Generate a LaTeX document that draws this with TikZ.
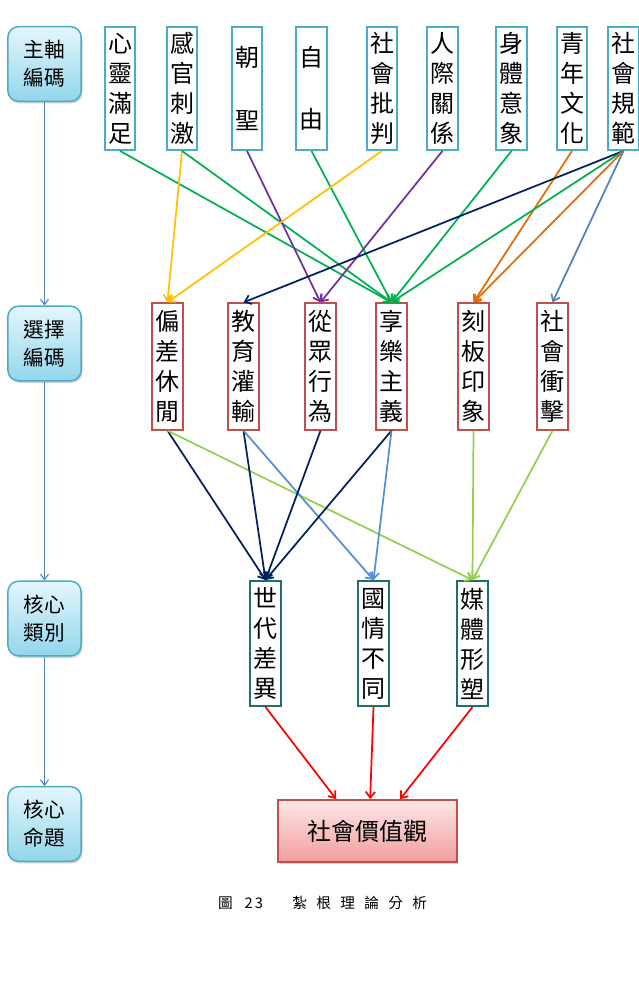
\documentclass[tikz,border=0pt]{standalone}
\usepackage{fontspec}
\setmainfont{Noto Sans CJK TC}
\usetikzlibrary{arrows.meta,shadows}
\definecolor{topc}{HTML}{4BACC6}
\definecolor{midc}{HTML}{C0504D}
\definecolor{botc}{HTML}{1F6F6A}
\definecolor{cgreen}{HTML}{00B050}
\definecolor{cyellow}{HTML}{FFC000}
\definecolor{cpurple}{HTML}{7030A0}
\definecolor{cnavy}{HTML}{002060}
\definecolor{corange}{HTML}{E36C09}
\definecolor{csteel}{HTML}{4F81BD}
\definecolor{clblue}{HTML}{558ED5}
\definecolor{clgreen}{HTML}{92D050}
\definecolor{cred}{HTML}{FF0000}
\definecolor{lbtop}{HTML}{E4F6FB}
\definecolor{lbbot}{HTML}{92D6EC}
\definecolor{pktop}{HTML}{FDE8E8}
\definecolor{pkbot}{HTML}{F29C9C}
\begin{document}
\begin{tikzpicture}[x=0.75pt,y=-0.75pt,
  vtext/.style={align=center,inner sep=0pt,font=\fontsize{18}{22.5}\selectfont},
  tb/.style={vtext,draw=topc,line width=1.6pt,minimum width=23pt,minimum height=92pt},
  mb/.style={vtext,draw=midc,line width=1.2pt,minimum width=23.25pt,minimum height=95pt},
  bb/.style={vtext,draw=botc,line width=1.5pt,minimum width=23.25pt,minimum height=93.75pt},
  lb/.style={align=center,rounded corners=8pt,draw=topc,line width=1.1pt,top color=lbtop,bottom color=lbbot,
     minimum width=55pt,minimum height=56pt,inner sep=0pt,font=\fontsize{15.5}{21}\selectfont,
     drop shadow={shadow xshift=1pt,shadow yshift=-1.5pt,opacity=0.35,fill=gray}},
  fb/.style={draw=midc,line width=1.3pt,top color=pktop,bottom color=pkbot,minimum width=134pt,minimum height=46.5pt,
     font=\fontsize{18}{20}\selectfont,drop shadow={shadow xshift=1pt,shadow yshift=-1.5pt,opacity=0.35,fill=gray}},
  arr/.style={line width=1.3pt,-{Straight Barb[length=4.5pt,width=7pt]}},
  vline/.style={draw=csteel,line width=0.8pt,-{Straight Barb[length=4pt,width=6pt]}}
]
\useasboundingbox (0,0) rectangle (639,990);
\fill[white] (0,0) rectangle (639,990);
% left column
\node[lb] (l1) at (44.5,64) {主軸\\編碼};
\node[lb] (l2) at (44.5,343.5) {選擇\\編碼};
\node[lb] (l3) at (44.5,618.5) {核心\\類別};
\node[lb] (l4) at (44.5,824) {核心\\命題};
\draw[vline] (l1) -- (l2);
\draw[vline] (l2) -- (l3);
\draw[vline] (l3) -- (l4);
% top row
\node[tb] (t1) at (120,88.5) {心\\靈\\滿\\足};
\node[tb] (t2) at (182,88.5) {感\\官\\刺\\激};
\node[tb] (t3) at (247,88.5) {朝\\[24.5pt]聖};
\node[tb] (t4) at (311.5,88.5) {自\\[24.5pt]由};
\node[tb] (t5) at (382,88.5) {社\\會\\批\\判};
\node[tb] (t6) at (442.5,88.5) {人\\際\\關\\係};
\node[tb] (t7) at (511.5,88.5) {身\\體\\意\\象};
\node[tb] (t8) at (572,88.5) {青\\年\\文\\化};
\node[tb] (t9) at (623.5,88.5) {社\\會\\規\\範};
% middle row
\node[mb] (m1) at (167.5,366.5) {偏\\差\\休\\閒};
\node[mb] (m2) at (243.5,366.5) {教\\育\\灌\\輸};
\node[mb] (m3) at (320.5,366.5) {從\\眾\\行\\為};
\node[mb] (m4) at (391.5,366.5) {享\\樂\\主\\義};
\node[mb] (m5) at (473.5,366.5) {刻\\板\\印\\象};
\node[mb] (m6) at (552.5,366.5) {社\\會\\衝\\擊};
% bottom row
\node[bb] (b1) at (265.5,643.5) {世\\代\\差\\異};
\node[bb] (b2) at (373.5,643.5) {國\\情\\不\\同};
\node[bb] (b3) at (472.5,643.5) {媒\\體\\形\\塑};
% final
\node[fb] (fin) at (367.5,831) {社會價值觀};
% caption
\node[font=\fontsize{11}{13}\selectfont,inner sep=0pt] (cap) at (322.5,903)
  {圖\hspace{9pt}2\hspace{1.5pt}3\hspace{22pt}紮\hspace{7pt}根\hspace{7pt}理\hspace{7pt}論\hspace{7pt}分\hspace{7pt}析};
% top -> middle
\draw[arr,cgreen] (t1.south) -- (m4.north);
\draw[arr,cyellow] (t2.south) -- (m1.north);
\draw[arr,cgreen] (t2.south) -- (m4.north);
\draw[arr,cpurple] (t3.south) -- (m3.north);
\draw[arr,cgreen] (t4.south) -- (m4.north);
\draw[arr,cyellow] (t5.south) -- (m1.north);
\draw[arr,cpurple] (t6.south) -- (m3.north);
\draw[arr,cgreen] (t7.south) -- (m4.north);
\draw[arr,corange] (t8.south) -- (m5.north);
\draw[arr,cnavy] (t9.south) -- (m2.north);
\draw[arr,cgreen] (t9.south) -- (m4.north);
\draw[arr,corange] (t9.south) -- (m5.north);
\draw[arr,csteel] (t9.south) -- (m6.north);
% middle -> bottom
\draw[arr,cnavy] (m1.south) -- (b1.north);
\draw[arr,clgreen] (m1.south) -- (b3.north);
\draw[arr,cnavy] (m2.south) -- (b1.north);
\draw[arr,clblue] (m2.south) -- (b2.north);
\draw[arr,cnavy] (m3.south) -- (b1.north);
\draw[arr,cnavy] (m4.south) -- (b1.north);
\draw[arr,clblue] (m4.south) -- (b2.north);
\draw[arr,clgreen] (m5.south) -- (b3.north);
\draw[arr,clgreen] (m6.south) -- (b3.north);
% bottom -> final
\draw[arr,cred] (b1.south) -- ([xshift=-23.5pt]fin.north);
\draw[arr,cred] (b2.south) -- ([xshift=2pt]fin.north);
\draw[arr,cred] (b3.south) -- ([xshift=24.5pt]fin.north);
\end{tikzpicture}
\end{document}
